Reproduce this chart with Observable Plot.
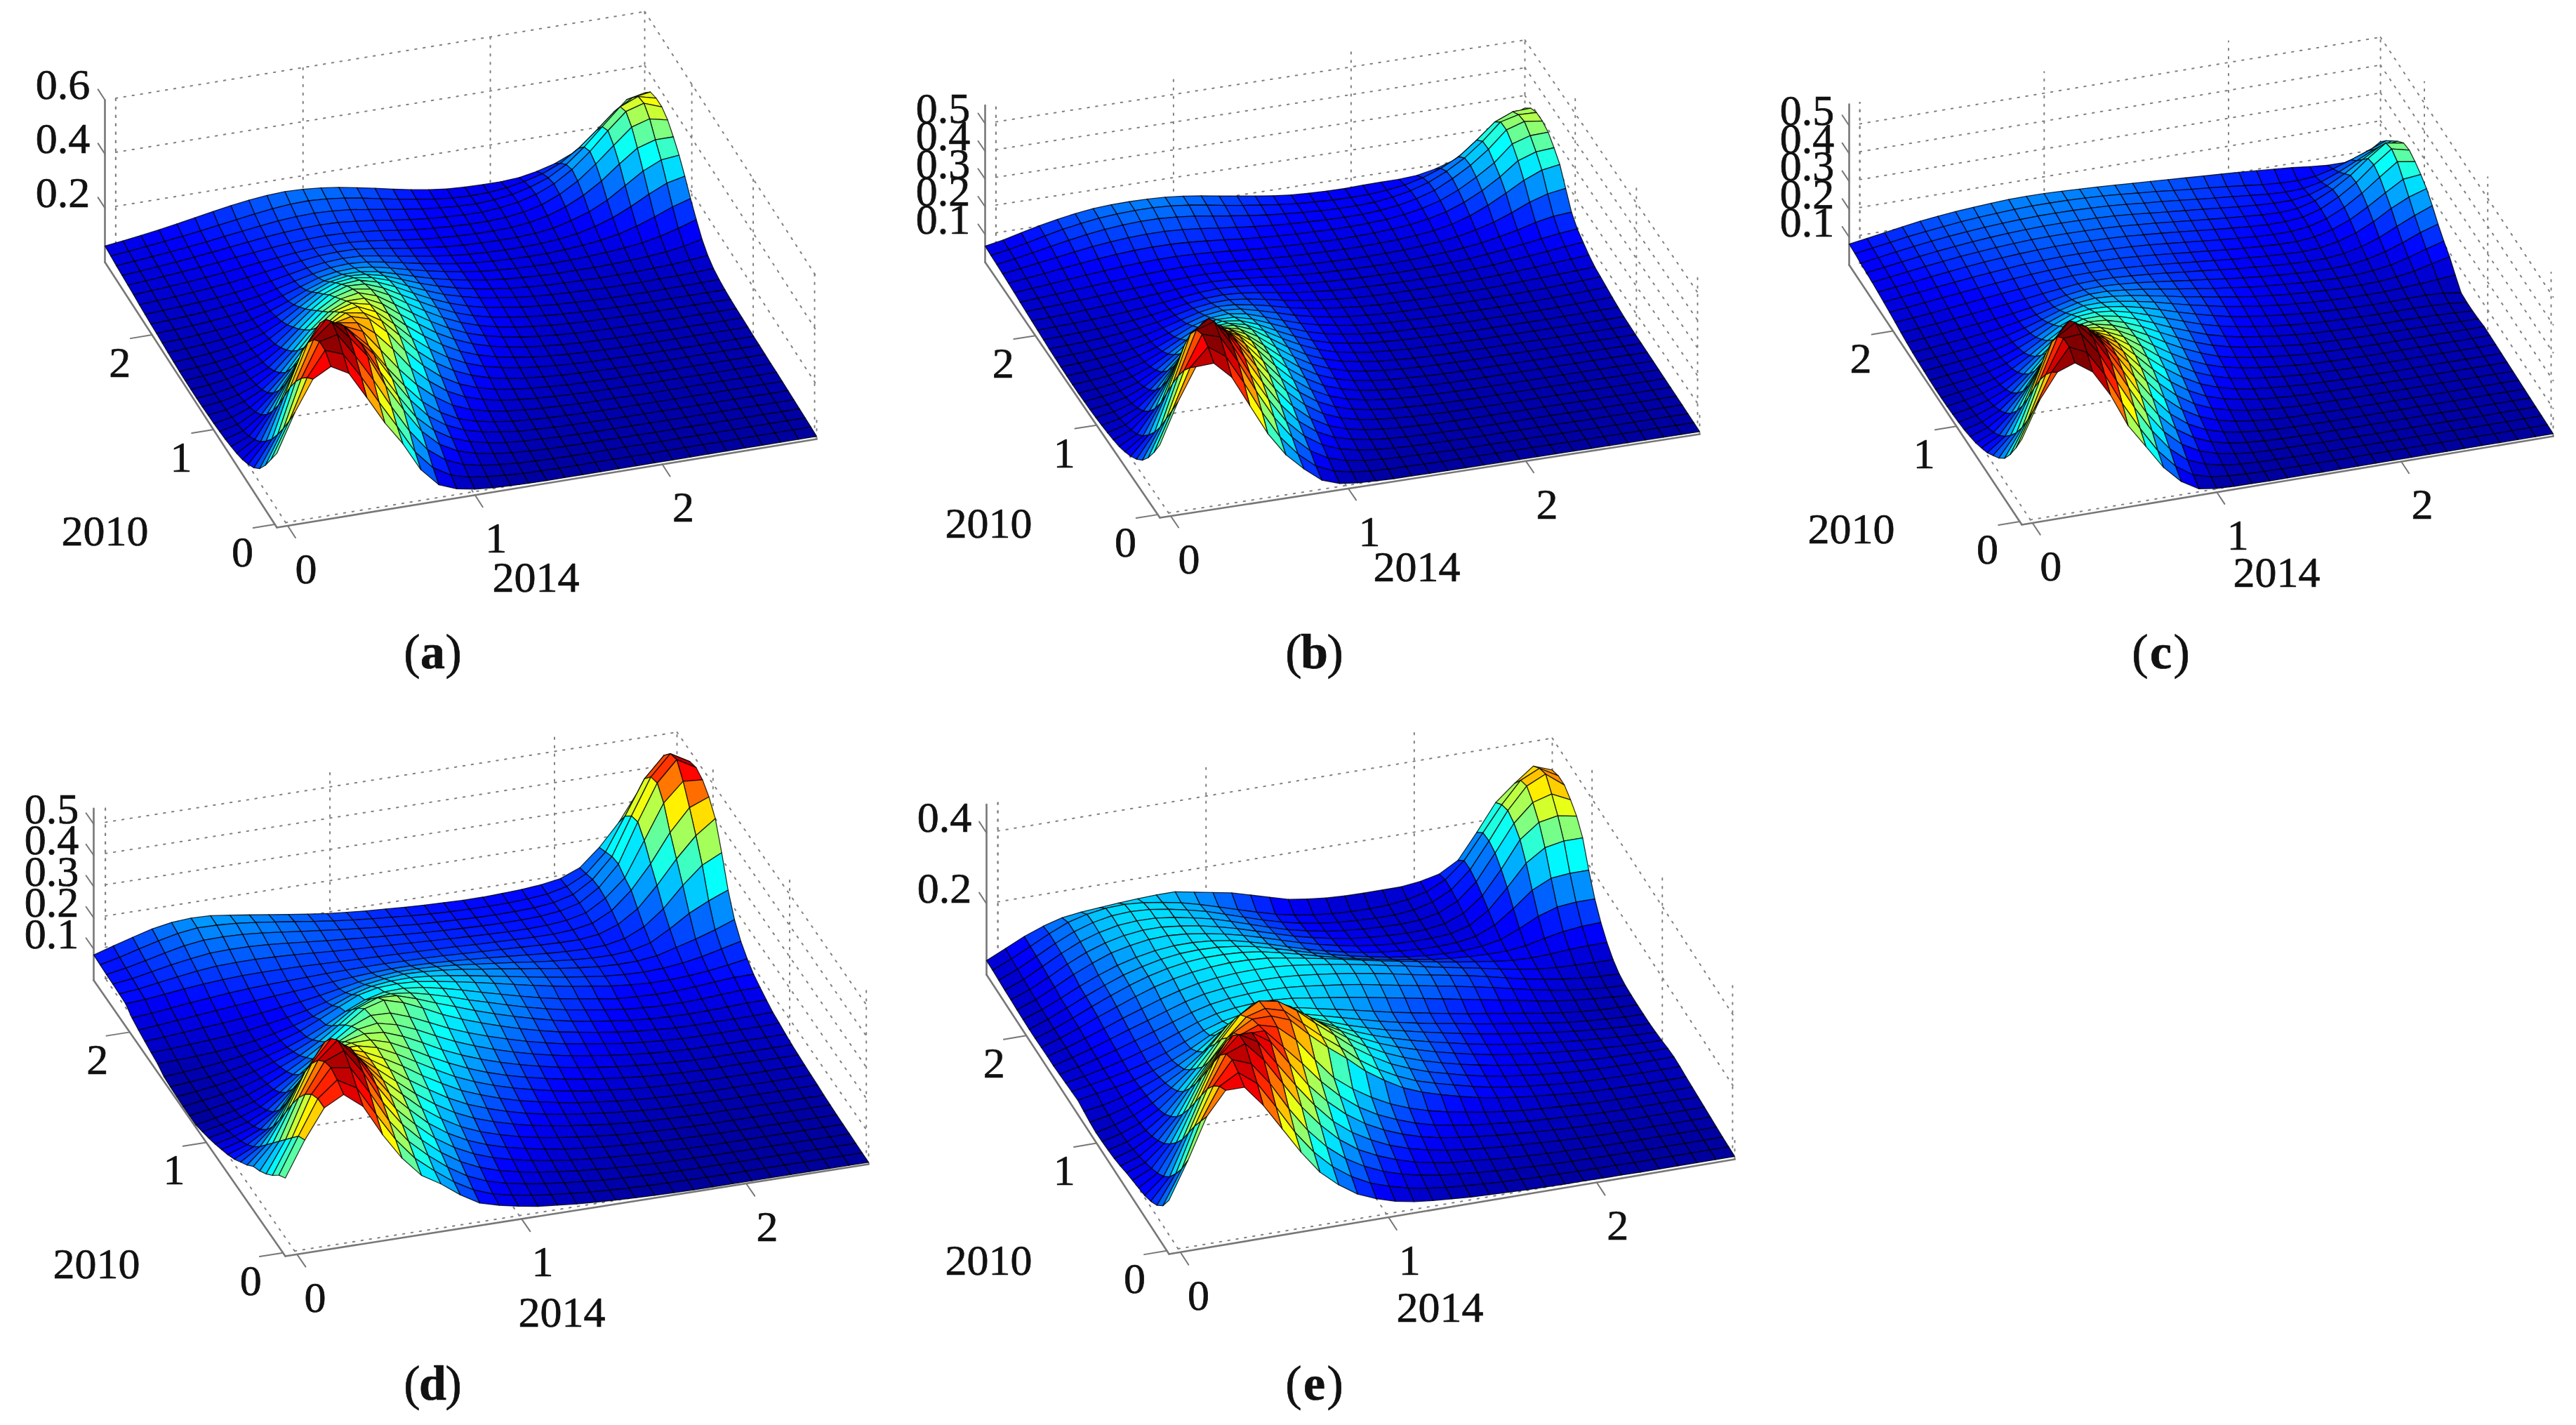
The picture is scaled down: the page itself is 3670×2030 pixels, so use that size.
<!DOCTYPE html>
<html>
<head>
<meta charset="utf-8">
<style>html,body{margin:0;padding:0;background:#fff}</style>
<script src="https://cdn.jsdelivr.net/npm/d3@7"></script>
<script src="https://cdn.jsdelivr.net/npm/@observablehq/plot@0.6"></script>
</head>
<body>
<div id="chart"></div>
<script>
// Surface heights, in thousandths; rows = 2010 axis (front to back), columns = 2014 axis (left to right)
const surfaceA=[
[275,415,527,563,527,426,322,234,127,60,34,22,16,13,11,10,10,10,10,10,10,10,10,10,10,10,10,10,10,10,10],
[220,350,500,590,565,470,365,265,160,90,52,34,25,19,15,13,12,12,12,12,12,12,12,12,12,12,12,12,12,12,12],
[165,290,465,590,605,515,415,305,205,125,76,48,34,26,20,17,15,14,14,14,14,13,13,13,13,13,13,13,13,13,13],
[120,235,420,565,620,550,470,350,250,160,100,65,45,33,26,21,18,17,16,16,15,15,14,14,14,14,14,14,14,14,14],
[90,185,365,520,595,560,480,370,270,180,120,80,56,41,31,25,22,19,18,17,16,16,16,15,15,15,15,15,15,15,15],
[70,145,300,455,550,520,470,400,300,210,140,95,66,48,37,29,25,22,20,19,18,17,17,17,16,16,16,16,16,16,16],
[55,110,235,370,460,480,465,400,310,230,160,110,75,55,42,33,28,24,22,20,19,18,18,18,17,17,17,17,17,17,17],
[45,85,180,300,400,450,450,420,340,260,190,135,92,66,49,38,32,27,24,22,21,20,19,18,18,18,18,18,18,18,18],
[38,65,135,235,330,400,430,420,370,300,220,160,112,80,59,45,37,31,27,24,22,21,20,19,19,19,18,18,18,18,18],
[32,52,100,180,270,345,395,410,390,330,250,185,132,95,70,53,43,35,30,26,24,22,21,20,19,19,19,19,19,19,19],
[28,43,78,138,218,295,355,390,380,340,275,205,152,112,83,63,49,40,34,29,26,24,22,21,20,20,20,20,20,20,20],
[25,37,62,106,170,250,315,360,370,340,285,222,170,128,96,73,57,45,38,32,28,25,24,22,21,21,20,20,20,20,20],
[23,32,52,84,136,208,280,330,350,335,290,235,185,142,107,82,64,51,42,35,30,27,25,23,22,22,22,22,22,22,22],
[21,29,44,69,110,172,240,295,325,325,293,243,197,153,118,91,71,57,46,39,33,29,27,25,24,24,23,23,23,23,23],
[20,27,39,59,90,144,208,265,300,312,290,248,204,163,127,98,77,62,50,42,36,32,29,27,26,25,25,25,25,25,24],
[20,26,36,52,77,120,178,235,275,293,282,250,208,169,133,104,82,66,54,46,39,35,32,30,28,27,27,27,27,27,26],
[20,26,34,47,67,100,152,205,250,272,268,243,207,171,137,108,86,70,58,49,42,37,34,32,30,29,29,29,29,29,29],
[21,26,33,44,60,87,128,176,220,245,250,232,203,169,137,110,89,73,61,52,45,40,37,34,32,31,31,31,32,33,34],
[23,27,33,42,55,75,108,150,192,218,226,216,194,163,135,110,91,75,64,55,48,43,40,38,36,35,35,36,37,39,42],
[25,29,34,41,52,67,93,126,162,189,200,195,179,154,129,108,90,76,65,56,50,45,43,41,40,40,41,43,46,51,58],
[28,31,36,42,50,61,81,106,136,160,173,172,161,142,122,103,88,75,65,57,52,48,46,46,46,47,50,54,60,70,85],
[31,34,38,43,50,59,74,94,116,138,150,153,146,131,114,99,85,73,64,58,54,51,50,52,54,58,64,72,85,103,125],
[33,36,40,45,52,60,71,87,104,120,132,136,132,120,107,93,81,71,63,58,55,53,54,57,62,70,82,100,124,150,170],
[36,39,43,48,54,62,72,83,96,109,119,123,121,111,99,87,77,68,62,58,56,56,58,63,72,88,110,140,175,205,220],
[39,43,47,52,58,65,74,84,94,103,111,114,113,105,95,84,75,68,63,60,59,59,63,71,88,110,142,185,228,258,265],
[43,47,52,57,63,70,78,86,93,100,105,107,106,100,92,82,74,68,64,62,61,63,70,84,106,138,180,232,280,300,300],
[46,51,56,62,68,75,83,90,97,103,107,109,107,102,95,85,77,71,67,64,64,67,76,92,120,158,210,268,325,345,330],
[49,54,60,66,73,80,88,96,104,110,114,116,114,108,100,90,81,74,69,66,65,70,80,98,126,168,224,290,350,370,345],
[52,58,64,71,78,86,95,104,112,120,125,127,124,118,108,97,86,77,70,65,63,67,76,92,116,154,208,272,335,362,345],
[56,62,69,77,85,94,104,114,124,132,138,140,136,128,117,104,91,80,70,63,60,61,68,80,98,126,170,226,285,325,335],
[60,68,77,87,98,110,122,133,142,149,152,150,144,135,123,110,96,83,72,64,60,58,58,62,74,92,120,165,225,285,300]];
const surfaceB=[
[263,407,524,527,466,354,243,157,96,45,23,15,12,10,10,9,9,9,9,9,9,9,9,9,9,9,9,9,9,9,9],
[205,345,490,555,510,405,290,190,118,65,37,24,17,14,13,12,11,11,11,11,11,11,11,11,11,11,11,11,11,11,11],
[155,285,450,570,550,450,335,230,148,90,53,34,24,19,16,14,13,12,12,12,12,12,12,12,12,12,12,12,12,12,12],
[115,225,400,555,575,480,365,265,175,112,70,45,31,23,19,16,15,14,13,13,13,13,13,13,13,13,13,13,13,13,13],
[88,175,340,510,555,495,395,295,205,135,87,56,39,28,22,18,16,15,14,14,14,14,14,14,14,14,14,14,14,14,14],
[68,135,275,440,510,490,410,320,232,158,104,68,46,33,26,21,18,16,15,15,15,15,15,15,15,15,15,15,15,15,15],
[53,100,210,360,450,460,410,335,255,180,122,81,55,39,30,24,20,18,16,16,16,16,16,16,16,16,16,16,16,16,16],
[42,76,158,285,385,420,400,342,270,198,138,94,64,45,34,27,23,20,18,17,17,17,17,17,17,17,17,17,17,17,17],
[35,60,118,218,315,370,375,340,280,212,152,105,73,51,38,30,25,22,20,19,18,18,18,18,18,18,18,18,18,18,18],
[30,48,88,165,255,315,340,325,282,222,163,116,80,57,42,33,27,24,21,20,19,19,19,19,19,19,19,19,19,19,19],
[26,40,68,122,198,265,300,305,275,225,172,125,88,63,47,37,30,26,23,21,20,20,20,20,20,20,20,20,20,20,20],
[23,34,54,92,152,215,258,278,262,225,177,132,95,69,51,40,33,28,25,23,22,21,21,21,21,21,21,21,21,21,21],
[21,30,45,73,116,172,220,248,245,220,178,136,100,73,55,43,35,30,26,24,23,22,22,22,22,22,22,22,22,22,22],
[20,27,38,59,92,138,184,216,222,206,174,137,104,77,58,46,37,32,28,26,25,24,23,23,23,23,23,23,23,24,24],
[19,25,34,49,74,110,150,184,198,190,166,134,104,79,60,48,39,34,30,28,26,25,24,24,24,24,24,25,26,27,28],
[19,24,31,43,61,89,123,155,173,172,155,129,103,80,62,50,41,35,31,29,27,26,25,25,25,26,26,27,29,31,33],
[20,24,30,39,53,73,100,130,149,154,143,122,100,79,63,51,42,36,32,30,28,27,27,27,27,28,29,31,33,36,39],
[21,25,30,37,47,62,83,107,127,135,130,114,96,77,63,51,43,37,33,31,30,29,29,29,30,31,33,35,38,42,45],
[23,26,30,36,44,55,71,90,107,118,115,104,90,74,61,51,44,38,34,33,32,31,31,32,33,35,38,41,44,47,50],
[25,28,31,35,42,50,61,76,91,100,102,94,83,70,59,50,44,39,36,35,34,34,34,35,37,40,44,48,53,58,62],
[28,30,33,36,41,47,56,66,78,86,89,85,77,67,57,50,44,40,38,36,36,36,37,39,42,46,52,58,65,72,78],
[31,33,36,39,43,48,54,61,69,76,80,78,72,64,56,50,45,42,40,39,38,39,41,44,48,54,62,70,80,89,95],
[34,36,39,43,47,52,57,62,67,72,74,72,67,61,55,50,46,44,42,41,41,43,46,50,56,64,76,90,108,120,125],
[37,40,44,48,52,56,60,64,68,70,71,69,65,60,55,51,49,47,45,45,46,48,52,58,66,80,98,122,150,170,180],
[40,44,49,54,58,63,67,71,74,75,74,71,67,62,58,55,53,51,50,50,52,55,60,67,80,100,128,162,198,225,235],
[44,49,55,61,67,72,77,81,83,84,82,78,73,68,64,61,58,56,55,56,58,62,68,78,94,118,150,190,238,260,265],
[47,54,62,70,78,85,91,95,97,97,94,89,83,76,71,67,64,62,60,60,62,66,74,86,104,132,168,210,268,288,290],
[50,59,69,79,89,98,105,110,113,113,109,103,95,87,80,74,70,67,64,63,64,68,76,90,110,142,180,228,288,308,300],
[53,63,75,88,100,111,119,125,128,128,124,117,107,98,89,81,75,70,66,64,64,67,75,88,108,138,176,226,286,302,300],
[55,66,80,95,109,120,129,134,137,137,133,126,116,105,95,86,78,71,67,64,63,64,69,78,94,118,150,200,255,282,285],
[58,70,86,101,114,125,133,137,138,137,134,128,119,108,98,88,79,72,68,66,65,67,68,68,72,85,105,145,190,230,255]];
const surfaceC=[
[307,436,526,549,506,413,292,207,121,60,23,14,11,10,9,9,9,9,9,9,9,9,9,9,9,9,9,9,9,9,9],
[245,370,495,575,545,455,340,240,150,84,42,25,17,14,12,11,10,10,10,10,10,10,10,10,10,10,10,10,10,10,10],
[190,305,455,575,580,500,390,285,190,115,64,39,25,18,15,13,12,11,11,11,11,11,11,11,11,11,11,11,11,11,11],
[145,245,405,550,590,525,430,325,225,145,90,55,35,24,18,15,14,13,12,12,12,12,12,12,12,12,12,12,12,12,12],
[115,195,345,500,565,530,450,355,258,175,113,72,46,31,23,18,15,14,13,13,13,13,13,13,13,13,13,13,13,13,13],
[93,155,280,430,515,510,450,375,288,205,137,90,59,40,29,22,18,16,15,14,14,14,14,14,14,14,14,14,14,14,14],
[72,120,220,350,450,475,440,380,310,232,162,110,74,51,37,28,22,18,17,16,15,15,15,15,15,15,15,15,15,15,15],
[58,92,170,282,380,425,415,375,320,252,185,130,90,63,46,34,27,22,19,18,17,16,16,16,16,16,16,16,16,16,16],
[45,72,130,220,312,370,380,360,320,265,203,148,106,75,55,42,33,27,23,20,19,18,17,17,17,17,17,17,17,17,17],
[37,58,100,168,250,318,345,340,312,270,216,165,122,88,65,49,39,32,27,23,21,19,18,18,18,18,18,18,18,18,18],
[30,47,78,130,200,268,308,315,298,268,225,177,135,100,75,57,45,37,31,26,23,21,20,19,19,19,19,19,19,19,19],
[26,40,63,100,158,222,270,288,282,260,227,186,146,112,85,65,52,42,35,29,25,23,21,20,20,20,20,20,20,20,20],
[23,35,53,80,125,182,232,260,262,248,223,191,155,122,95,73,58,47,40,33,28,25,23,22,21,21,21,21,21,21,21],
[21,32,46,67,100,147,196,230,240,235,216,191,160,130,103,81,65,53,45,37,31,27,25,23,22,22,22,21,20,19,17],
[20,30,41,57,82,119,162,200,218,219,207,187,162,135,111,89,72,59,50,41,35,30,27,25,24,23,23,22,21,18,15],
[20,29,38,51,70,98,135,172,196,201,195,180,160,138,116,95,78,65,55,46,39,34,30,28,26,25,25,25,24,21,15],
[21,29,37,47,61,84,112,146,172,181,179,170,155,137,118,100,84,70,60,51,44,38,34,31,29,28,28,29,30,27,18],
[23,30,37,45,57,74,95,123,147,162,163,157,146,133,117,102,88,75,65,55,48,42,38,35,33,32,33,36,40,45,50],
[25,31,38,45,54,66,83,103,125,142,148,144,136,125,113,100,89,78,68,59,52,46,42,38,36,36,38,44,54,70,85],
[28,33,40,46,54,63,75,89,106,122,131,131,125,117,107,97,88,78,70,61,55,50,45,42,40,41,46,56,72,92,110],
[32,37,43,50,57,64,73,83,95,107,116,118,115,109,102,94,86,79,71,63,57,52,48,45,44,47,56,72,94,120,140],
[37,42,48,55,62,69,76,84,92,99,106,108,107,103,98,92,85,79,72,65,60,55,51,49,49,56,70,92,122,150,175],
[43,48,54,61,68,75,82,88,95,100,104,105,104,101,97,92,86,80,74,68,63,58,55,53,56,68,88,118,155,185,205],
[48,54,61,68,75,82,88,94,99,103,106,107,106,104,100,95,89,83,77,71,66,62,59,58,64,80,105,140,180,218,225],
[53,60,67,75,82,89,95,100,105,108,110,110,109,107,104,100,94,88,82,76,71,66,63,63,70,88,118,158,205,250,240],
[58,65,73,81,89,96,102,107,111,114,116,116,115,113,110,105,100,94,88,82,76,71,67,67,73,92,124,165,218,265,250],
[62,70,79,87,95,102,108,113,117,120,121,121,120,118,115,110,105,99,93,87,81,76,71,69,73,90,120,160,210,255,245],
[65,74,83,92,100,107,113,118,122,125,127,127,126,124,121,116,110,104,98,92,86,80,75,71,71,80,102,135,175,212,220],
[68,78,88,97,105,112,118,123,127,130,132,132,131,129,126,121,115,110,104,97,91,85,79,73,70,72,85,110,140,170,190],
[72,81,91,101,109,116,123,128,132,135,137,137,136,134,131,126,120,115,108,102,96,90,83,76,71,69,74,90,112,135,160],
[75,85,95,105,115,122,128,133,137,140,141,140,138,135,132,128,124,120,116,112,108,104,100,95,90,85,78,72,72,85,125]];
const surfaceD=[
[250,362,455,488,440,340,255,190,153,108,72,55,42,32,26,20,16,13,10,8,7,6,6,6,6,6,6,6,6,6,6],
[230,345,455,505,470,375,285,215,165,120,85,62,48,38,30,24,19,15,12,10,9,8,7,7,7,7,7,7,7,7,7],
[200,310,440,515,505,415,315,240,185,138,100,74,57,45,36,29,23,18,15,12,10,9,8,8,8,8,8,8,8,8,8],
[175,275,410,505,530,450,345,265,205,155,116,88,68,54,43,35,28,23,18,15,12,11,10,9,9,9,9,9,9,9,9],
[155,240,370,480,535,470,370,285,225,172,132,102,80,64,51,41,33,27,22,18,15,13,11,10,10,10,10,10,10,10,10],
[140,205,320,440,510,470,385,305,245,190,148,116,92,74,60,48,39,32,26,21,18,15,13,12,11,11,11,11,11,11,11],
[115,170,265,385,470,450,385,318,262,208,165,130,104,85,69,56,46,38,31,25,21,18,15,14,13,13,13,13,13,13,13],
[95,135,210,320,410,420,375,325,275,225,182,146,118,97,80,65,54,45,37,30,25,21,18,16,15,15,15,15,15,15,15],
[75,105,160,255,345,380,360,325,285,240,200,163,133,110,91,75,62,52,43,36,30,25,21,19,18,18,18,18,18,18,18],
[60,82,120,195,280,335,340,320,290,255,215,180,148,124,103,86,72,60,50,42,35,30,26,23,21,20,20,20,20,20,20],
[47,64,92,145,225,285,310,310,295,265,230,195,163,137,115,97,82,69,58,49,41,35,30,27,25,23,23,23,23,23,23],
[35,50,72,108,172,235,275,290,290,272,242,208,177,150,127,108,92,78,66,56,48,41,35,31,28,26,26,26,26,26,26],
[25,38,56,84,132,190,235,265,280,275,252,222,190,163,140,120,103,88,75,64,55,47,41,36,32,30,29,29,29,29,29],
[16,28,44,66,102,150,195,235,265,275,260,235,205,177,153,132,114,98,84,72,63,54,47,41,37,34,33,33,33,33,34],
[8,20,35,53,82,120,160,203,245,270,268,246,218,190,166,145,126,109,94,81,71,62,53,47,42,39,38,38,38,38,40],
[8,18,30,45,70,100,135,175,220,262,280,262,235,205,180,158,138,120,104,90,79,69,60,53,48,44,43,43,43,43,45],
[8,17,27,40,60,85,112,148,190,235,258,255,235,212,190,168,148,130,113,98,85,75,66,58,53,50,49,50,52,55,55],
[10,17,25,36,52,72,95,123,158,200,225,232,225,210,193,173,155,137,120,105,92,82,72,64,59,56,56,58,62,66,66],
[12,18,24,33,46,62,80,103,132,165,192,208,210,203,190,175,158,142,126,111,98,88,78,69,65,63,64,68,73,78,78],
[15,20,25,33,42,55,72,92,120,150,178,192,195,192,183,172,160,147,134,121,109,98,89,80,74,70,70,73,79,88,98],
[27,29,32,36,42,52,65,80,100,125,150,167,174,175,170,162,152,141,130,119,108,98,90,82,77,75,78,85,95,110,125],
[33,36,40,44,49,56,66,77,90,107,127,143,152,157,155,150,143,134,125,115,106,97,89,83,80,81,88,105,122,142,165],
[40,44,49,54,59,65,72,80,88,98,110,122,130,135,135,132,127,120,113,106,98,91,85,81,80,85,100,135,175,205,230],
[47,52,58,64,70,76,82,87,92,97,103,108,112,115,115,113,110,106,101,96,91,86,82,80,82,94,122,170,235,290,320],
[56,61,68,75,81,87,91,94,96,98,100,101,102,102,101,100,98,95,92,89,86,83,81,81,88,110,150,215,290,355,400],
[72,76,83,90,96,100,103,104,104,103,101,99,97,95,94,92,90,88,85,83,81,79,79,83,94,125,180,255,345,415,440],
[74,80,90,99,108,114,116,116,114,111,107,103,99,96,93,90,87,84,81,79,77,76,78,84,98,135,190,300,410,470,465],
[76,84,96,108,118,126,128,127,124,119,113,107,102,97,92,88,84,81,78,76,75,75,77,84,100,140,205,330,445,510,475],
[77,88,102,117,130,138,139,137,132,125,117,110,103,97,91,86,81,78,75,73,72,73,75,82,98,136,200,320,435,500,465],
[79,93,110,126,140,148,147,143,136,128,119,110,102,95,89,84,79,75,72,71,70,71,74,80,94,125,185,290,400,465,430],
[81,100,118,135,146,150,148,140,131,122,113,104,96,90,85,81,77,74,72,70,70,72,75,80,90,115,170,240,330,405,370]];
const surfaceE=[
[152,255,370,435,435,375,300,225,160,115,80,58,42,32,26,22,18,16,14,12,11,10,10,9,9,8,8,8,8,8,8],
[110,205,330,420,450,410,335,255,190,140,103,76,58,44,35,28,24,20,17,15,13,12,11,10,10,9,9,9,9,9,9],
[85,165,290,395,460,440,375,295,225,170,128,97,74,57,45,36,31,26,22,19,16,14,13,12,11,11,10,10,10,10,10],
[70,130,245,360,450,470,415,340,265,205,155,118,92,72,56,45,37,33,28,24,20,18,16,14,13,12,12,12,12,12,12],
[60,105,200,315,420,470,440,370,300,235,180,140,110,86,68,55,45,38,33,28,25,22,19,17,15,14,14,14,14,14,14],
[55,88,165,270,375,440,440,405,335,265,210,165,130,103,82,66,54,46,40,34,30,26,23,20,18,17,16,16,16,16,16],
[50,75,135,225,325,400,410,410,355,300,240,190,150,120,97,78,64,54,46,40,35,30,27,24,21,19,18,18,18,18,18],
[45,65,110,185,280,350,380,400,385,340,275,215,175,142,115,94,78,66,56,47,40,34,30,27,24,21,21,20,20,20,20],
[38,56,92,150,235,305,360,390,390,370,320,275,235,190,155,125,104,88,74,62,52,45,39,34,29,26,24,23,22,22,22],
[33,50,78,125,195,260,320,370,385,370,325,280,240,195,160,132,110,94,80,67,56,48,41,36,31,28,26,25,25,25,25],
[30,45,68,105,160,220,290,350,380,370,335,290,248,205,170,140,118,100,86,72,61,52,45,39,34,30,28,27,26,26,26],
[28,42,62,92,135,190,250,310,345,345,320,282,242,205,172,145,123,105,90,77,66,56,48,41,36,32,28,26,25,24,24],
[27,40,58,84,118,160,215,270,300,305,290,260,228,198,170,146,126,110,95,82,70,60,52,45,39,34,29,26,23,21,20],
[30,41,56,78,105,135,175,225,255,265,255,235,210,185,162,142,125,110,97,85,73,63,54,46,40,34,29,25,21,18,17],
[35,43,56,74,95,120,150,188,215,228,225,212,192,172,153,137,122,110,98,87,76,66,57,49,42,35,29,24,20,17,15],
[40,50,58,70,88,108,132,160,182,195,198,190,176,162,148,134,120,108,97,87,78,68,59,51,43,35,28,23,19,16,15],
[38,48,58,70,85,103,125,148,165,175,178,175,168,156,145,134,122,110,100,90,80,70,62,53,45,36,29,23,19,17,15],
[36,46,58,72,88,105,125,145,160,168,172,172,168,160,152,144,135,125,115,105,95,85,75,65,55,45,36,29,24,20,16],
[34,46,60,76,93,110,128,146,160,168,172,174,172,167,160,153,145,135,125,115,105,95,85,74,62,50,40,31,25,20,18],
[32,46,62,80,98,115,133,150,163,170,174,176,175,171,165,158,150,141,131,120,110,100,90,79,66,54,44,36,30,26,24],
[32,47,65,84,104,122,140,155,167,174,178,179,178,173,166,158,149,139,128,118,107,96,86,76,65,55,47,42,40,38,38],
[31,48,68,90,110,130,148,162,172,178,181,180,176,168,158,148,137,126,115,105,95,85,76,68,60,54,52,54,58,60,60],
[30,48,70,93,115,135,152,165,174,178,178,175,168,156,143,129,116,104,93,83,74,66,60,56,54,54,60,72,82,88,90],
[30,49,72,96,118,138,153,165,172,174,172,166,156,142,127,112,98,85,74,64,56,50,47,46,50,60,82,108,125,130,130],
[31,50,73,98,120,139,153,163,168,168,164,156,143,128,112,96,82,70,60,52,46,42,41,43,52,74,112,155,180,185,185],
[32,52,78,105,128,148,160,168,170,166,158,148,135,120,104,88,74,62,52,45,40,38,38,42,56,90,145,205,240,250,250],
[34,54,80,108,132,150,162,168,168,162,154,142,128,112,96,80,67,56,47,41,37,35,36,44,64,105,170,245,285,295,285],
[35,56,84,112,136,153,164,168,167,160,150,138,122,105,88,72,60,50,43,38,35,34,37,48,72,118,190,265,315,330,305],
[37,59,86,114,138,155,165,168,165,157,146,133,116,99,82,67,55,46,40,36,34,34,39,52,78,126,198,275,335,360,320],
[39,62,88,115,138,152,160,162,158,150,140,126,110,94,78,63,52,44,38,35,34,36,42,55,80,125,195,265,325,350,320],
[40,65,90,110,125,132,136,140,143,145,145,135,125,115,100,85,70,62,56,53,52,52,52,58,70,100,170,245,290,330,310]];

const xTicks=[0,1,2];
const yTicks=[0,1,2];
const zTicksA=[0.2,0.4,0.6];
const zTicksBCD=[0.1,0.2,0.3,0.4,0.5];
const zTicksE=[0.2,0.4];
const captions=["a","b","c","d","e"];
const yearX="2014";
const yearY="2010";

// Jet colour map
const jetStops=[0,0.125,0.375,0.625,0.875,1];
const jetColors=["#000090","#0000ff","#00ffff","#ffff00","#ff0000","#800000"];

// View of each panel: box corners on screen, height scale, axis spans, label places
const views=[
 {id:"a",grid:surfaceA,O:[394,751],X:[1163,625],Y:[149,373],zu:385,zTop:.6,zT:zTicksA,cmax:.6,dx:.347,dy:.357,yearY:[149,757],yearX:[763,823],cap:[616,929]},
 {id:"b",grid:surfaceB,O:[1652,737],X:[2421,618],Y:[1403,373],zu:395,zTop:.566,zT:zTicksBCD,cmax:.56,dx:.329,dy:.35,yearY:[1408,746],yearX:[2018,808],cap:[1872,929]},
 {id:"c",grid:surfaceC,O:[2880,747],X:[3637,621],Y:[2634,377],zu:397,zTop:.577,zT:zTicksBCD,cmax:.54,dx:.347,dy:.367,yearY:[2637,754],yearX:[3243,816],cap:[3078,929]},
 {id:"d",grid:surfaceD,O:[406,1789],X:[1237,1658],Y:[133,1396],zu:445,zTop:.55,zT:zTicksBCD,cmax:.54,dx:.385,dy:.4,yearY:[137,1801],yearX:[800,1870],cap:[616,1971]},
 {id:"e",grid:surfaceE,O:[1665,1786],X:[2471,1651],Y:[1405,1388],zu:505,zTop:.48,zT:zTicksE,cmax:.49,dx:.368,dy:.385,yearY:[1408,1796],yearX:[2051,1863],cap:[1872,1971]}
];

const project=(p,u,v,z)=>({
  x:p.O[0]+u*(p.X[0]-p.O[0])+v*(p.Y[0]-p.O[0]),
  y:p.O[1]+u*(p.X[1]-p.O[1])+v*(p.Y[1]-p.O[1])-z*p.zu
});
const u0=.02,v0=.012;

const quads=[],dots=[],axes=[],ticks=[],labels=[],years=[],parenL=[],parenR=[],letters=[];
let seg=0;
const addSeg=(arr,p,a,b)=>{seg++;arr.push({...project(p,...a),id:seg},{...project(p,...b),id:seg});};

views.forEach((p,pi)=>{
  const n=p.grid.length-1,m=p.grid[0].length-1;
  const uOf=t=>u0+t*p.dx, vOf=t=>v0+t*p.dy;
  const zMaxTick=p.zT[p.zT.length-1];
  // dotted grid on floor and back walls
  xTicks.forEach(t=>{const u=uOf(t);
    addSeg(dots,p,[u,v0,0],[u,1,0]);
    addSeg(dots,p,[u,1,0],[u,1,p.zTop]);});
  yTicks.forEach(t=>{const v=vOf(t);
    addSeg(dots,p,[u0,v,0],[1,v,0]);
    addSeg(dots,p,[1,v,0],[1,v,p.zTop]);});
  [0,...p.zT].forEach(z=>{
    addSeg(dots,p,[u0,1,z],[1,1,z]);
    addSeg(dots,p,[1,1,z],[1,0,z]);});
  addSeg(dots,p,[u0,1,0],[u0,1,p.zTop]);
  addSeg(dots,p,[1,1,0],[1,1,zMaxTick]);
  addSeg(dots,p,[1,0,0],[1,0,p.zTop*.12]);
  // solid axes
  addSeg(axes,p,[0,0,0],[1,0,0]);
  addSeg(axes,p,[0,0,0],[0,1,0]);
  addSeg(axes,p,[0,1,0],[0,1,p.zTop]);
  xTicks.forEach(t=>{const u=uOf(t);
    addSeg(ticks,p,[u,0,0],[u,-.045,0]);
    const q=project(p,u,0,0);
    labels.push({x:q.x+(t===0?26:30),y:q.y+62,t:String(t)});});
  yTicks.forEach(t=>{const v=vOf(t);
    addSeg(ticks,p,[0,v,0],[-.04,v,0]);
    const q=project(p,0,v,0);
    labels.push({x:q.x-46,y:q.y+40,t:String(t)});});
  p.zT.forEach(z=>{
    addSeg(ticks,p,[0,1,z],[0,1.04,z]);
    const q=project(p,0,1,z);
    labels.push({x:q.x-60,y:q.y-21,t:z.toFixed(1)});});
  years.push({x:p.yearY[0],y:p.yearY[1],t:yearY},{x:p.yearX[0],y:p.yearX[1],t:yearX});
  parenL.push({x:p.cap[0]-18,y:p.cap[1],t:"("});
  parenR.push({x:p.cap[0]+18,y:p.cap[1],t:")"});
  letters.push({x:p.cap[0],y:p.cap[1],t:captions[pi]});
  // surface cells, back to front
  for(let r=n-1;r>=0;r--){
    for(let c=m-1;c>=0;c--){
      const id=`${p.id}-${r}-${c}`;
      const t=Math.min(1,p.grid[r][c]/1000/p.cmax);
      [[r,c],[r,c+1],[r+1,c+1],[r+1,c],[r,c]].forEach(([i,j])=>{
        quads.push({...project(p,j/m,i/n,p.grid[i][j]/1000),id,t});
      });
    }
  }
});

const font="'Liberation Serif','Times New Roman',serif";
const textStyle={x:"x",y:"y",text:"t",fontFamily:font,fill:"#111",stroke:"#111",strokeWidth:.7,lineAnchor:"middle"};
const chart=Plot.plot({
  width:3670,height:2030,margin:0,
  style:{background:"#fff",overflow:"visible",fontFamily:font},
  x:{domain:[0,3670],range:[0,3670],axis:null},
  y:{domain:[0,2030],range:[0,2030],axis:null},
  color:{type:"linear",domain:jetStops,range:jetColors},
  marks:[
    Plot.line(dots,{x:"x",y:"y",z:"id",stroke:"#808080",strokeWidth:2,strokeDasharray:"2.5 9.5"}),
    Plot.line(axes,{x:"x",y:"y",z:"id",stroke:"#777",strokeWidth:2.6}),
    Plot.line(ticks,{x:"x",y:"y",z:"id",stroke:"#777",strokeWidth:2}),
    Plot.line(quads,{x:"x",y:"y",z:"id",fill:"t",stroke:"#000",strokeWidth:1.3,strokeOpacity:.8,strokeLinejoin:"round"}),
    Plot.text(labels,{...textStyle,fontSize:62,textAnchor:"middle"}),
    Plot.text(years,{...textStyle,fontSize:62,textAnchor:"middle"}),
    Plot.text(parenL,{...textStyle,fontSize:70,textAnchor:"end"}),
    Plot.text(parenR,{...textStyle,fontSize:70,textAnchor:"start"}),
    Plot.text(letters,{...textStyle,fontSize:70,fontWeight:"bold",textAnchor:"middle"})
  ]
});
document.getElementById("chart").appendChild(chart);
</script>
</body>
</html>
